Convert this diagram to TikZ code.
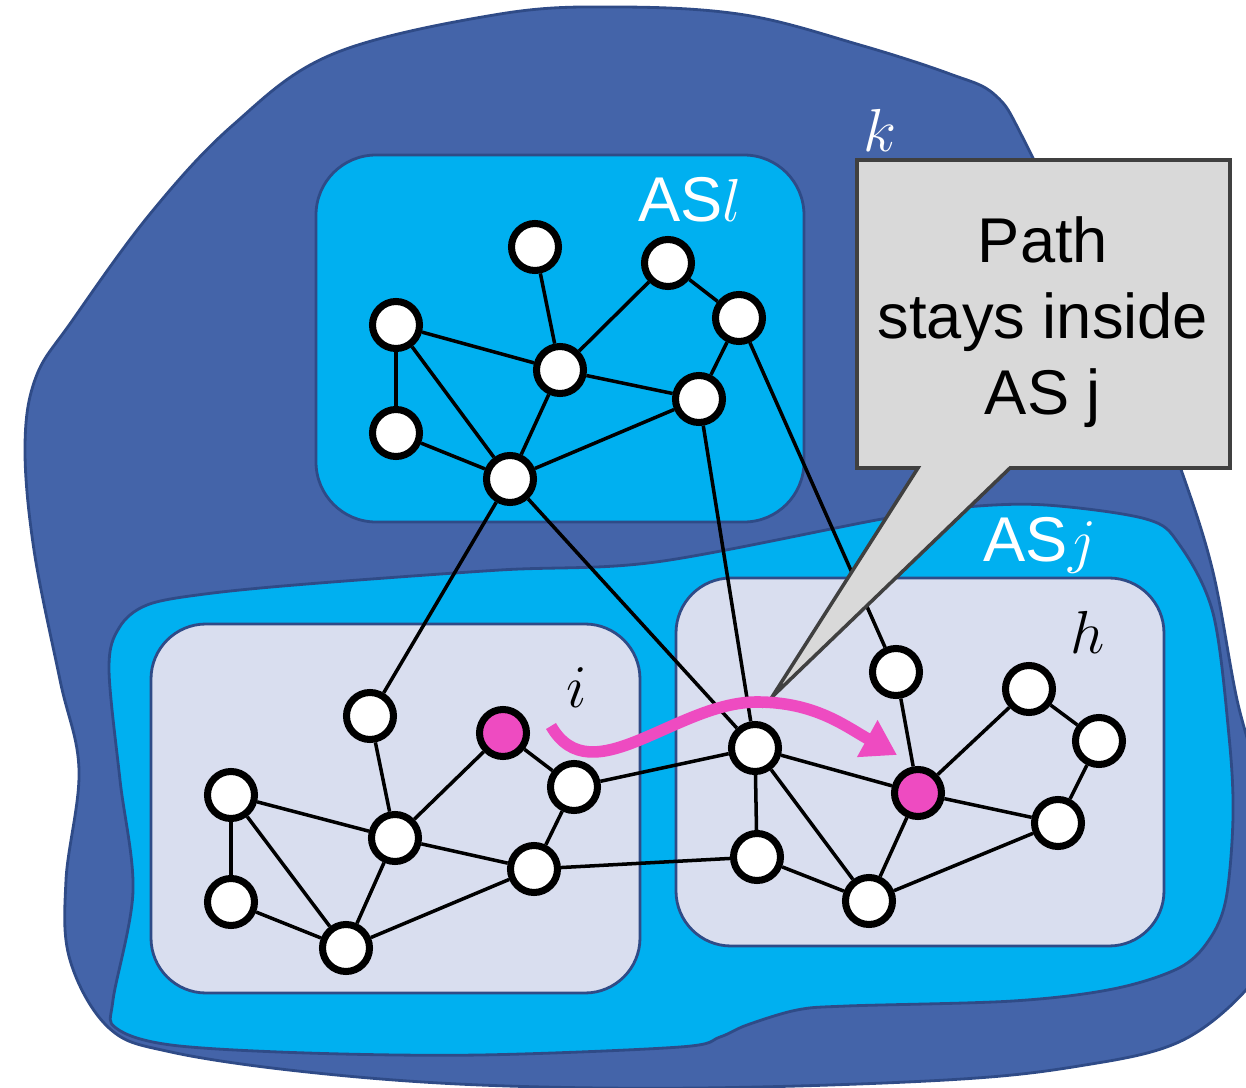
\documentclass[tikz,border=0pt]{standalone}
\usepackage{fontspec}
\setmainfont{Liberation Sans}
\usepackage{tikz}
\usetikzlibrary{arrows.meta}
\definecolor{kblue}{HTML}{4464A9}
\definecolor{kline}{HTML}{2F4B87}
\definecolor{ascyan}{HTML}{00B0F0}
\definecolor{aslav}{HTML}{D9DEEF}
\definecolor{notegray}{HTML}{D9D9D9}
\definecolor{pathpink}{HTML}{EE4BC1}
\tikzstyle{router} = [circle, minimum size=0.47cm, inner sep=0pt, draw=black, line width=2pt, fill=white]
\tikzstyle{hot} = [router, fill=pathpink]
\tikzstyle{link} = [line width=1pt]
\tikzstyle{blob} = [draw=kline, line width=0.8pt]
\tikzstyle{asbox} = [blob, rounded corners=0.55cm]
\tikzstyle{astext} = [font=\fontsize{18}{21.6}\selectfont, inner sep=0pt]
\tikzstyle{note} = [fill=notegray, draw=black!75, line width=1pt]
\tikzstyle{patharrow} = [pathpink, line width=3.3pt, -{Triangle[length=0.34cm, width=0.4cm]}]

\begin{document}
\begin{tikzpicture}

\useasboundingbox (0,0) rectangle (12.46,10.87);
\clip (0,0) rectangle (12.46,10.87);

\path [blob, fill=kblue] plot [smooth cycle, tension=0.6] coordinates {
  (7.45,10.72) (8.60,10.42) (9.50,10.13) (9.95,9.92) (10.25,9.45)
  (11.00,7.87) (11.60,6.67) (11.84,6.09) (12.13,5.15) (12.36,3.92) (12.60,2.87)
  (12.62,1.37) (12.46,0.97) (11.79,0.45) (10.79,0.21) (9.46,0.07) (7.00,-0.01)
  (4.80,0.02) (3.07,0.15) (1.71,0.35) (1.09,0.59) (0.70,1.27) (0.66,2.07)
  (0.79,3.17) (0.60,4.07) (0.34,5.37) (0.25,6.41) (0.36,7.10) (0.72,7.66)
  (1.50,8.73) (2.33,9.62) (3.33,10.33) (5.00,10.73) (6.20,10.80)};
\path [blob, fill=ascyan] plot [smooth cycle, tension=0.55] coordinates {
  (1.47,4.82) (2.05,4.93) (3.07,5.03) (5.00,5.17) (6.56,5.25) (8.82,5.68)
  (9.66,5.80) (10.46,5.82) (11.46,5.68) (11.79,5.43) (12.13,4.74) (12.29,3.51)
  (12.33,2.70) (12.26,1.88) (12.09,1.47) (11.79,1.19) (11.13,0.98) (10.13,0.86)
  (8.47,0.81) (7.97,0.77) (7.47,0.62) (7.20,0.50) (6.80,0.40) (4.80,0.32)
  (3.07,0.34) (1.71,0.42) (1.16,0.59) (1.13,0.87) (1.33,1.96) (1.20,3.07)
  (1.09,4.18) (1.19,4.59)};
\path [asbox, fill=ascyan, rounded corners=0.6cm] (3.16,5.65) rectangle (8.04,9.32);
\path [asbox, fill=aslav] (1.51,0.94) rectangle (6.40,4.63);
\path [asbox, fill=aslav] (6.76,1.41) rectangle (11.64,5.09);

\node (kname) [astext, text=white] at (8.80,9.57) {$k$};
\node (lname) [astext, text=white] at (6.90,8.87) {AS$l$};
\node (jname) [astext, text=white] at (10.40,5.42) {AS$j$};
\node (iname) [astext] at (5.77,3.99) {$i$};
\node (hname) [astext] at (10.88,4.55) {$h$};

\node (a1) [router] at (5.35,8.40) {};
\node (a2) [router] at (6.68,8.24) {};
\node (a3) [router] at (3.96,7.62) {};
\node (a4) [router] at (7.39,7.69) {};
\node (a5) [router] at (5.60,7.17) {};
\node (a6) [router] at (6.99,6.88) {};
\node (a7) [router] at (3.96,6.54) {};
\node (a8) [router] at (5.10,6.08) {};

\node (b1) [router] at (3.70,3.71) {};
\node (b2) [hot] at (5.03,3.54) {};
\node (b3) [router] at (2.31,2.92) {};
\node (b4) [router] at (5.74,3.00) {};
\node (b5) [router] at (3.95,2.49) {};
\node (b6) [router] at (2.31,1.85) {};
\node (b7) [router] at (5.34,2.18) {};
\node (b8) [router] at (3.46,1.39) {};

\node (c1) [router] at (7.55,3.39) {};
\node (c2) [router] at (8.96,4.15) {};
\node (c3) [router] at (10.29,3.98) {};
\node (c4) [router] at (7.57,2.30) {};
\node (c5) [router] at (10.99,3.46) {};
\node (c6) [hot] at (9.18,2.94) {};
\node (c7) [router] at (10.58,2.64) {};
\node (c8) [router] at (8.69,1.86) {};

\draw [link] (a1) -- (a5);
\draw [link] (a2) -- (a5);
\draw [link] (a2) -- (a4);
\draw [link] (a3) -- (a5);
\draw [link] (a3) -- (a7);
\draw [link] (a3) -- (a8);
\draw [link] (a5) -- (a6);
\draw [link] (a4) -- (a6);
\draw [link] (a5) -- (a8);
\draw [link] (a7) -- (a8);
\draw [link] (a8) -- (a6);

\draw [link] (a8) -- (b1);
\draw [link] (a8) -- (c1);
\draw [link] (a6) -- (c1);
\draw [link] (a4) -- (c2);

\draw [link] (b1) -- (b5);
\draw [link] (b2) -- (b4);
\draw [link] (b2) -- (b5);
\draw [link] (b3) -- (b5);
\draw [link] (b3) -- (b6);
\draw [link] (b3) -- (b8);
\draw [link] (b5) -- (b7);
\draw [link] (b5) -- (b8);
\draw [link] (b6) -- (b8);
\draw [link] (b4) -- (b7);
\draw [link] (b8) -- (b7);
\draw [link] (b4) -- (c1);
\draw [link] (b7) -- (c4);

\draw [link] (c1) -- (c4);
\draw [link] (c1) -- (c6);
\draw [link] (c1) -- (c8);
\draw [link] (c2) -- (c6);
\draw [link] (c3) -- (c6);
\draw [link] (c3) -- (c5);
\draw [link] (c5) -- (c7);
\draw [link] (c6) -- (c7);
\draw [link] (c6) -- (c8);
\draw [link] (c4) -- (c8);
\draw [link] (c8) -- (c7);

\coordinate (tip) at (7.72,3.90);
\path [note] (8.57,6.19) -- (9.18,6.19) -- (tip) -- (10.10,6.19) -- (12.30,6.19)
  -- (12.30,9.27) -- (8.57,9.27) -- cycle;
\node (notetext) [astext, align=center] at (10.43,7.65) {Path\\stays inside\\AS j};

\coordinate (pstart) at (5.51,3.61);
\coordinate (pcrest) at (7.57,3.85);
\coordinate (pend) at (8.97,3.32);
\draw [patharrow] (pstart) to[out=-60, in=180] (pcrest) to[out=0, in=151] (pend);

\end{tikzpicture}
\end{document}
